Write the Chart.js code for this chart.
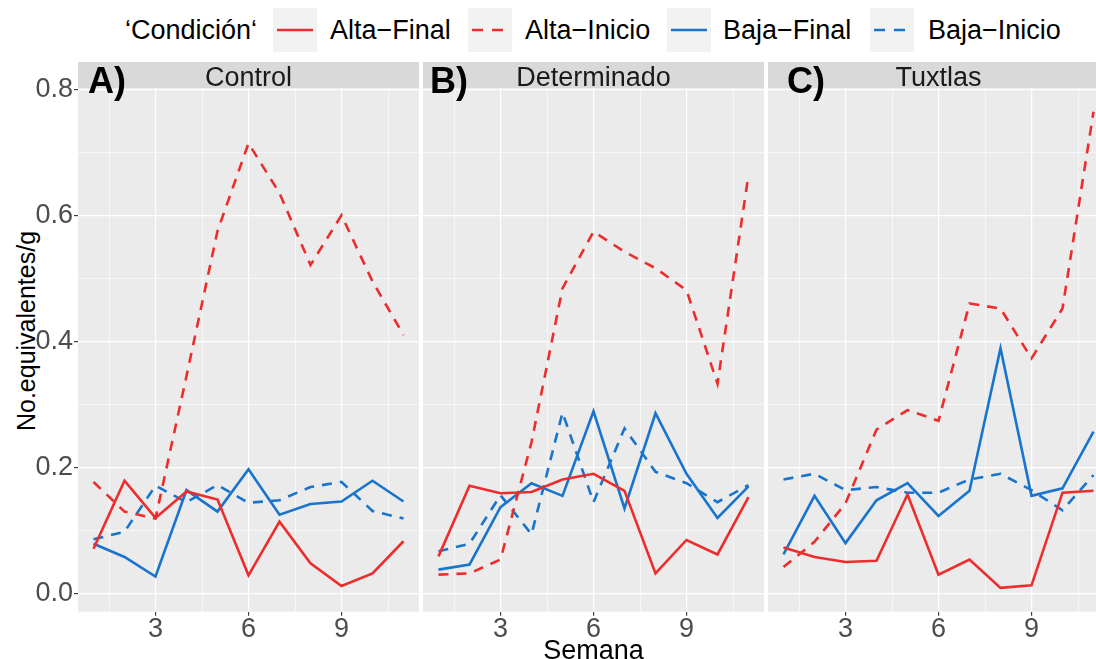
<!DOCTYPE html>
<html>
<head>
<meta charset="utf-8">
<script src="https://cdn.jsdelivr.net/npm/chart.js@4.4.1/dist/chart.umd.min.js"></script>
<style>
  html, body { margin: 0; padding: 0; background: #fff; overflow: hidden; width: 1096px; height: 659px; }
  body { position: relative; font-family: 'Liberation Sans', Arial, Helvetica, sans-serif; }
  canvas.panel { position: absolute; top: 62px; }
  .lg-text { position: absolute; top: 8px; height: 44px; line-height: 44px; font-size: 27px; color: #000; white-space: nowrap; }
  .lg-key { position: absolute; top: 8px; width: 44px; height: 44px; background: #F2F2F2; }
  .lg-key svg { display: block; }
  #ytitle { position: absolute; left: -124px; top: 316px; width: 300px; height: 30px; line-height: 30px;
            text-align: center; font-size: 25px; color: #000; transform: rotate(-90deg); white-space: nowrap; }
</style>
</head>
<body>

<div class="lg-text" style="left:125px">‘Condición‘</div>
<div class="lg-key" style="left:273px"><svg width="44" height="44"><line x1="4" y1="22" x2="40" y2="22" stroke="#EE2C2C" stroke-width="2.6"/></svg></div>
<div class="lg-text" style="left:330px">Alta−Final</div>
<div class="lg-key" style="left:468px"><svg width="44" height="44"><line x1="4" y1="22" x2="40" y2="22" stroke="#EE2C2C" stroke-width="2.6" stroke-dasharray="11 9"/></svg></div>
<div class="lg-text" style="left:525px">Alta−Inicio</div>
<div class="lg-key" style="left:667px"><svg width="44" height="44"><line x1="4" y1="22" x2="40" y2="22" stroke="#1874CD" stroke-width="2.6"/></svg></div>
<div class="lg-text" style="left:723px">Baja−Final</div>
<div class="lg-key" style="left:870px"><svg width="44" height="44"><line x1="4" y1="22" x2="40" y2="22" stroke="#1874CD" stroke-width="2.6" stroke-dasharray="11 9"/></svg></div>
<div class="lg-text" style="left:928px">Baja−Inicio</div>

<div id="ytitle">No.equivalentes/g</div>

<canvas id="pA" class="panel" width="419" height="618" style="left:0px"></canvas>
<canvas id="pB" class="panel" width="341" height="618" style="left:423px"></canvas>
<canvas id="pC" class="panel" width="341" height="618" style="left:768px"></canvas>

<script>
// weeks on the x axis
const weeks = [1, 2, 3, 4, 5, 6, 7, 8, 9, 10, 11];
const sites = ['Control', 'Determinado', 'Tuxtlas'];
const panelTags = ['A)', 'B)', 'C)'];
const conditions = ['Alta−Final', 'Alta−Inicio', 'Baja−Final', 'Baja−Inicio'];

// No. equivalentes/g per week
const controlAltaFinal  = [0.071, 0.179, 0.120, 0.162, 0.149, 0.029, 0.114, 0.048, 0.012, 0.032, 0.083];
const controlAltaInicio = [0.177, 0.130, 0.119, 0.345, 0.575, 0.714, 0.635, 0.521, 0.600, 0.495, 0.410];
const controlBajaFinal  = [0.079, 0.058, 0.027, 0.164, 0.130, 0.197, 0.125, 0.142, 0.146, 0.179, 0.146];
const controlBajaInicio = [0.086, 0.098, 0.171, 0.145, 0.172, 0.144, 0.148, 0.169, 0.177, 0.131, 0.119];

const detAltaFinal  = [0.059, 0.171, 0.159, 0.161, 0.181, 0.190, 0.163, 0.032, 0.085, 0.062, 0.153];
const detAltaInicio = [0.030, 0.032, 0.054, 0.240, 0.484, 0.574, 0.542, 0.516, 0.481, 0.333, 0.664];
const detBajaFinal  = [0.038, 0.046, 0.137, 0.175, 0.155, 0.289, 0.135, 0.286, 0.190, 0.120, 0.170];
const detBajaInicio = [0.067, 0.079, 0.156, 0.094, 0.287, 0.145, 0.262, 0.193, 0.175, 0.145, 0.172];

const tuxAltaFinal  = [0.073, 0.058, 0.050, 0.052, 0.157, 0.030, 0.054, 0.009, 0.013, 0.160, 0.163];
const tuxAltaInicio = [0.042, 0.082, 0.143, 0.260, 0.291, 0.274, 0.460, 0.452, 0.373, 0.452, 0.764];
const tuxBajaFinal  = [0.062, 0.155, 0.080, 0.148, 0.175, 0.123, 0.163, 0.389, 0.155, 0.167, 0.257];
const tuxBajaInicio = [0.181, 0.190, 0.164, 0.169, 0.160, 0.160, 0.181, 0.190, 0.164, 0.132, 0.188];

// axis breaks (major labelled, minor only gridlines)
const xMajor = [3, 6, 9];
const xMinor = [1.5, 4.5, 7.5, 10.5];
const yMajor = [0, 0.2, 0.4, 0.6, 0.8];
const yMinor = [0.1, 0.3, 0.5, 0.7];
const yTickLabels = ['0.0', '0.2', '0.4', '0.6', '0.8'];

const panelSeries = [
  [controlAltaFinal, controlAltaInicio, controlBajaFinal, controlBajaInicio],
  [detAltaFinal, detAltaInicio, detBajaFinal, detBajaInicio],
  [tuxAltaFinal, tuxAltaInicio, tuxBajaFinal, tuxBajaInicio]
];

const fontFamily = "'Liberation Sans', Arial, Helvetica, sans-serif";
const red = '#EE2C2C';
const blue = '#1874CD';

// shared y range, padded 5% each side like ggplot
const allValues = panelSeries.flat(2);
const yLo = Math.min(...allValues), yHi = Math.max(...allValues);
const yPad = (yHi - yLo) * 0.05;
const xPad = (weeks[weeks.length - 1] - weeks[0]) * 0.05;

const isXMajor = v => xMajor.some(m => Math.abs(m - v) < 1e-6);
const isYMajor = v => yMajor.some(m => Math.abs(m - v) < 1e-6);

// grey panel, grey strip with facet name, bold panel tag
const facetPlugin = {
  id: 'facet',
  beforeDraw(chart, args, opts) {
    const ctx = chart.ctx, a = chart.chartArea;
    ctx.save();
    ctx.fillStyle = '#EBEBEB';
    ctx.fillRect(a.left, a.top, a.right - a.left, a.bottom - a.top);
    ctx.fillStyle = '#D9D9D9';
    ctx.fillRect(a.left, 0, a.right - a.left, a.top);
    ctx.fillStyle = '#1A1A1A';
    ctx.font = '27px ' + fontFamily;
    ctx.textAlign = 'center';
    ctx.textBaseline = 'alphabetic';
    ctx.fillText(opts.label, (a.left + a.right) / 2, 23.5);
    ctx.restore();
  },
  afterDatasetsDraw(chart, args, opts) {
    const ctx = chart.ctx, a = chart.chartArea;
    ctx.save();
    ctx.fillStyle = '#000';
    ctx.font = 'bold 36px ' + fontFamily;
    ctx.textAlign = 'left';
    ctx.textBaseline = 'alphabetic';
    ctx.fillText(opts.tag, a.left + opts.tagOffset, 30.5);
    ctx.restore();
  }
};

function makePanel(canvasId, i, tagOffset) {
  const first = i === 0;
  const datasets = conditions.map((name, k) => ({
    label: name,
    data: weeks.map((w, j) => ({ x: w, y: panelSeries[i][k][j] })),
    borderColor: k < 2 ? red : blue,
    borderDash: k % 2 ? [10, 8] : [],
    borderWidth: 2.6,
    borderCapStyle: 'butt',
    pointRadius: 0,
    tension: 0,
    fill: false
  }));

  return new Chart(document.getElementById(canvasId), {
    type: 'line',
    data: { datasets: datasets },
    plugins: [facetPlugin],
    options: {
      responsive: false,
      animation: false,
      events: [],
      layout: { padding: { top: 26, left: 0, right: 0, bottom: 0 } },
      plugins: {
        legend: { display: false },
        tooltip: { enabled: false },
        facet: { label: sites[i], tag: panelTags[i], tagOffset: tagOffset }
      },
      scales: {
        x: {
          type: 'linear',
          min: weeks[0] - xPad,
          max: weeks[weeks.length - 1] + xPad,
          afterBuildTicks: s => { s.ticks = xMinor.concat(xMajor).sort((p, q) => p - q).map(v => ({ value: v })); },
          afterFit: s => { s.height = 68.3; },
          border: { display: false },
          grid: {
            color: '#FFFFFF',
            lineWidth: c => isXMajor(c.tick.value) ? 1.2 : 0.6,
            tickColor: c => isXMajor(c.tick.value) ? '#333333' : 'rgba(0,0,0,0)',
            tickWidth: 1.1,
            tickLength: 4
          },
          ticks: {
            autoSkip: false,
            maxRotation: 0,
            padding: 0,
            color: '#4D4D4D',
            font: { family: fontFamily, size: 27, lineHeight: 1 },
            callback: v => isXMajor(v) ? String(v) : ''
          },
          title: {
            display: i === 1,
            text: 'Semana',
            color: '#000',
            font: { family: fontFamily, size: 27, lineHeight: 1 },
            padding: { top: 0, bottom: 15 }
          }
        },
        y: {
          type: 'linear',
          min: yLo - yPad,
          max: yHi + yPad,
          afterBuildTicks: s => { s.ticks = yMajor.concat(yMinor).sort((p, q) => p - q).map(v => ({ value: v })); },
          afterFit: s => { s.width = first ? 78 : 0; },
          border: { display: false },
          grid: {
            color: '#FFFFFF',
            lineWidth: c => isYMajor(c.tick.value) ? 1.2 : 0.6,
            drawTicks: first,
            tickColor: c => isYMajor(c.tick.value) ? '#333333' : 'rgba(0,0,0,0)',
            tickWidth: 1.1,
            tickLength: 4
          },
          ticks: {
            display: first,
            autoSkip: false,
            padding: 1,
            color: '#4D4D4D',
            font: { family: fontFamily, size: 27, lineHeight: 1 },
            callback: v => {
              const m = yMajor.findIndex(t => Math.abs(t - v) < 1e-6);
              return m >= 0 ? yTickLabels[m] : '';
            }
          }
        }
      }
    }
  });
}

makePanel('pA', 0, 10);
makePanel('pB', 1, 7);
makePanel('pC', 2, 19);
</script>
</body>
</html>
